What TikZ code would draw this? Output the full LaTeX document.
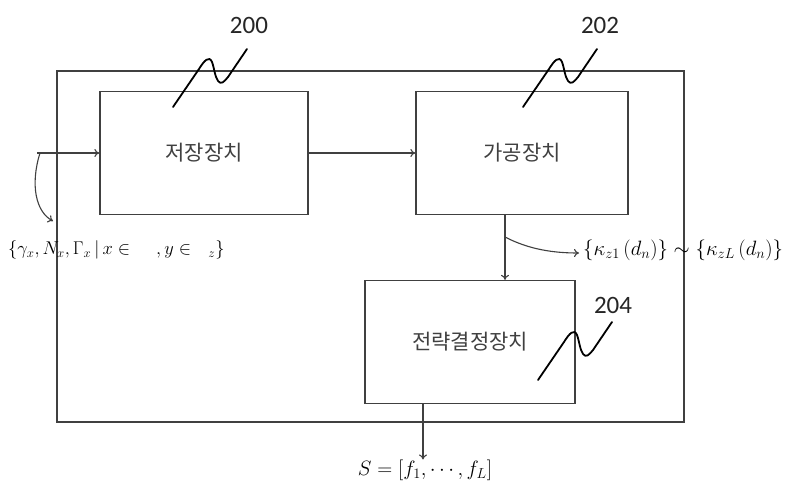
\documentclass[tikz,border=0pt]{standalone}
\usepackage{fontspec}
\usepackage{graphicx}
\newfontfamily\kr{Noto Sans CJK KR}
\newfontfamily\numf{Carlito}
\usetikzlibrary{arrows.meta}
\definecolor{ln}{HTML}{404040}
\tikzset{
  box/.style={draw=ln, line width=1.3pt, rectangle, inner sep=0pt, font=\kr\fontsize{21}{24}\selectfont, text=ln},
  arr/.style={draw=ln, line width=1.1pt, -{To[length=5pt,width=8pt]}},
  sq/.style={draw=black, line width=1.8pt, line cap=round, line join=round},
  num/.style={font=\numf\fontsize{25}{28}\selectfont, text=black!85},
  mlab/.style={font=\fontsize{18.6}{21}\selectfont, inner sep=0pt}
}
\newcommand\squigpath{(0,0) -- (26,-38) .. controls (31,-46) and (36,-52) .. (39,-45) .. controls (41,-40) and (42,-30) .. (45,-26) .. controls (48,-22) and (51,-25) .. (55,-30) -- (74,-58)}
\begin{document}
\begin{tikzpicture}[x=1pt,y=-1pt]
\useasboundingbox[fill=white] (0,0) rectangle (791,489);
% outer frame
\node[box, minimum width=627pt, minimum height=351pt] (frame) at (370.5,246.5) {};
% boxes
\node[box, minimum width=208pt, minimum height=123pt] (s200) at (204,153) {저장장치};
\node[box, minimum width=212pt, minimum height=123pt] (s202) at (522,153) {가공장치};
\node[box, minimum width=210pt, minimum height=123pt] (s204) at (470,342) {전략결정장치};
% labels
\node[mlab, anchor=west] (lin) at (8,250) {\scalebox{1.07}{$\Bigl\{\gamma_x, N_x, \Gamma_x \,\Big|\, x\in\quad\ , y\in\ \ _z\Bigr\}$}};
\node[mlab, anchor=west, font=\fontsize{21.5}{24}\selectfont] (lk) at (583,250) {$\Bigl\{\kappa_{z1}\,\bigl(d_n\bigr)\Bigr\}\sim\Bigl\{\kappa_{zL}\,\bigl(d_n\bigr)\Bigr\}$};
\node[mlab, font=\fontsize{21}{24}\selectfont] (ls) at (425,470) {$S=\Bigl[f_1,\cdots,f_L\Bigr]$};
\node[num] (n200) at (249,25) {200};
\node[num] (n202) at (600,25) {202};
\node[num] (n204) at (613,305) {204};
% connectors
\coordinate (in) at (37,153);
\draw[arr] (in) -- (s200.west);
\draw[arr] (s200.east) -- (s202.west);
\coordinate (vx) at (505,0);
\draw[arr] (s202.south -| vx) -- (s204.north -| vx);
\coordinate (bx) at (423,0);
\draw[arr] (s204.south -| bx) -- (ls.north -| bx);
% curved arrows
\coordinate (c1s) at (40,153);
\coordinate (c1e) at (53,221);
\draw[arr] (c1s) .. controls (30,185) and (36,212) .. (c1e);
\coordinate (c2s) at (505,237);
\coordinate (c2e) at (579,253);
\draw[arr] (c2s) .. controls (530,250) and (555,253) .. (c2e);
% squiggles
\draw[sq, shift={(173,107)}] \squigpath;
\draw[sq, shift={(523,107)}] \squigpath;
\draw[sq, shift={(538,380)}] \squigpath;
\end{tikzpicture}
\end{document}
